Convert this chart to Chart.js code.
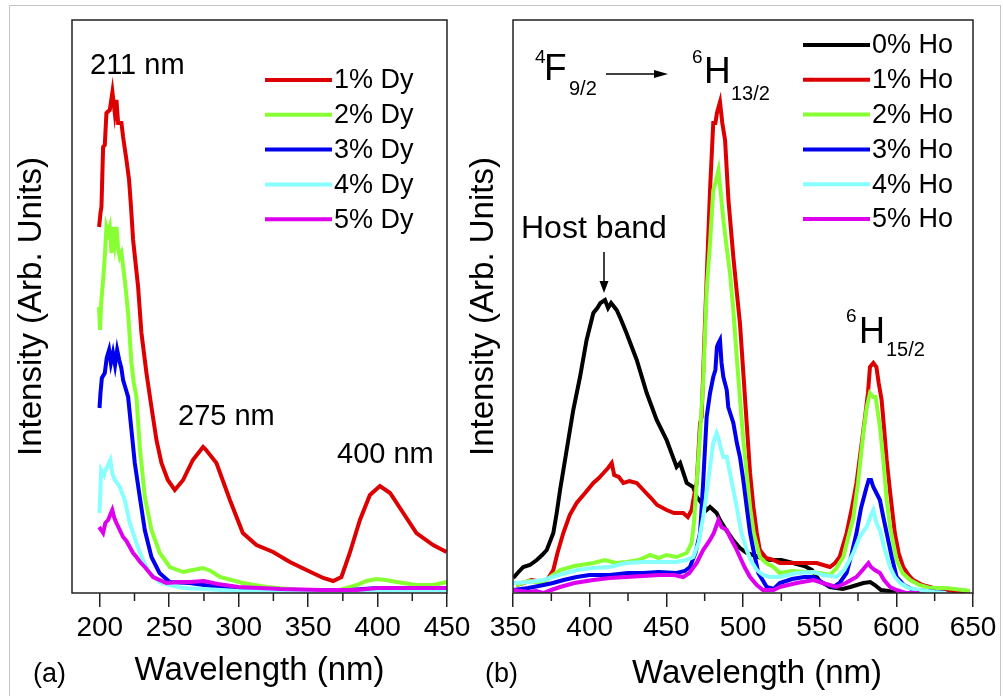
<!DOCTYPE html>
<html>
<head>
<meta charset="utf-8">
<title>Excitation spectra</title>
<script src="https://cdn.jsdelivr.net/npm/chart.js@4.4.1/dist/chart.umd.min.js"></script>
<style>
  html, body { margin: 0; padding: 0; background: #fff; }
  #wrap { position: relative; width: 1003px; height: 696px; overflow: hidden; }
  #frame { position: absolute; left: 9px; top: 5px; width: 990px; height: 720px; border: 1px solid #c4c4c4; }
  canvas { position: absolute; left: 0; top: 0; }
</style>
</head>
<body>
<div id="wrap">
  <div id="frame"></div>
  <canvas id="chartA" width="1003" height="696"></canvas>
  <canvas id="chartB" width="1003" height="696"></canvas>
</div>
<script>
const FONT = '"Liberation Sans", Arial, sans-serif';

// =======================
// (a) Dy series
// =======================
const dyLabels = ["1% Dy", "2% Dy", "3% Dy", "4% Dy", "5% Dy"];
const dyColors = ["#dd0000", "#88ff33", "#0000ee", "#88ffff", "#dd00ee"];

const dy1Nm = [199.5, 200.5, 201.2, 202.4, 203.6, 204.8, 207.2, 209.1, 210.8, 212, 213.2, 215.6, 216.8, 219.2, 221.1, 222.5, 224, 227.6, 230, 233.6, 237.2, 240.8, 244.4, 249, 254, 260, 267, 274.4, 276, 284, 293.7, 303, 312.8, 324.8, 336.9, 348.8, 360.9, 368, 374, 380, 387.3, 394.5, 401.7, 409, 418.5, 428, 440, 449.7];
const dy1Int = [366, 380, 386, 446, 448, 480, 483, 501, 480, 493, 470, 470, 456, 433, 413, 386, 353, 306, 260, 220, 186, 153, 130, 113, 103, 113, 133, 146, 144, 130, 93, 60, 48, 41, 31, 23, 15, 12, 16, 40, 73, 98, 107, 100, 80, 60, 48, 41];

const dy2Nm = [199.5, 200.2, 201, 202.4, 203.6, 204.8, 206, 207.2, 208.4, 209.5, 210.8, 212, 213.2, 214.4, 215.6, 218, 220.4, 222.8, 224.5, 226.4, 228.8, 232.4, 237.2, 243.2, 250.4, 260, 267, 274.4, 280, 286.5, 303, 320, 344, 370.5, 385, 392, 399, 406, 413.7, 428, 440, 449.7];
const dy2Int = [286, 263, 290, 313, 336, 366, 360, 366, 340, 366, 350, 366, 345, 336, 340, 313, 280, 230, 210, 196, 146, 96, 63, 40, 26, 21, 23, 25, 22, 16, 10, 6, 3, 2, 8, 12, 14, 13, 11, 8, 8, 11];

const dy3Nm = [199.8, 200.5, 201.5, 203.6, 205, 206.7, 208, 209.5, 211, 212.5, 214, 215.5, 216.8, 218.5, 220.4, 222.8, 225.2, 228.8, 232.4, 237.2, 243, 250.4, 264.8, 275, 290, 320, 370, 400, 450];
const dy3Int = [185, 200, 215, 220, 235, 243, 230, 240, 228, 243, 233, 225, 213, 205, 196, 163, 130, 96, 63, 36, 20, 11, 10, 8, 5, 3, 2, 5, 5];

const dy4Nm = [199.8, 201, 203, 204, 206, 207.6, 209, 210.8, 212.5, 214.4, 216, 218, 221.6, 226.4, 231, 236, 243, 250, 260, 275, 300, 350, 400, 450];
const dy4Int = [80, 123, 118, 123, 128, 133, 120, 113, 110, 106, 100, 93, 70, 50, 33, 20, 11, 8, 5, 4, 2, 1, 2, 3];

const dy5Nm = [199.5, 201, 202.4, 204, 206, 207.5, 209, 210.5, 212, 214.4, 216.8, 219.2, 221.6, 224, 226.4, 229, 232.4, 238.4, 248, 258, 265, 275, 285, 300, 330, 360, 385, 400, 420, 450];
const dy5Int = [66, 63, 60, 70, 73, 78, 83, 75, 70, 63, 56, 52, 46, 40, 36, 31, 26, 16, 10, 11, 11, 12, 9, 6, 4, 3, 3, 5, 5, 5];

const dyMinorTicks = [225, 275, 325, 375, 425];

// =======================
// (b) Ho series
// =======================
const hoLabels = ["0% Ho", "1% Ho", "2% Ho", "3% Ho", "4% Ho", "5% Ho"];
const hoColors = ["#000000", "#dd0000", "#88ff33", "#0000ee", "#88ffff", "#dd00ee"];

const ho0Nm = [350.2, 353, 356.7, 361, 365.5, 369, 372, 376.3, 378.5, 380.7, 385, 389.3, 393.7, 398, 402.4, 405, 407, 410, 412, 414, 417.6, 420, 424, 430.7, 437.2, 443.7, 450.2, 456.7, 459, 463.3, 467.5, 469.8, 473, 476.3, 478.5, 482.8, 485, 489.4, 493.5, 498, 502.4, 510, 517.6, 525, 532.6, 540, 545, 550, 556.7, 565, 570, 578.5, 583, 586, 590, 595, 600];
const ho0Int = [15, 20, 26, 28, 33, 38, 43, 60, 80, 103, 143, 183, 216, 253, 280, 285, 290, 293, 285, 290, 283, 275, 260, 233, 200, 173, 153, 126, 130, 110, 106, 96, 90, 83, 86, 80, 73, 62, 53, 45, 40, 36, 33, 33, 30, 27, 23, 12, 6, 4, 6, 10, 11, 8, 3, 2, 0];

const ho1Nm = [352, 356.7, 362, 369.8, 373, 376.3, 379, 382.8, 387, 391.5, 397, 402.4, 406, 409, 412, 414.4, 416, 419, 422, 426, 430.7, 435, 439.4, 444, 450.2, 455, 461, 464, 466.5, 467.6, 469.8, 472, 473, 475.2, 478.5, 480.6, 482, 483, 485, 486.5, 488.3, 490.5, 493.7, 496, 498, 500, 502.4, 504.6, 506.8, 509, 511, 515, 519.8, 524, 532.8, 541.5, 548, 556.7, 560, 563, 567.6, 571, 574, 577, 579.6, 581.5, 582.8, 585, 587, 588.5, 590.4, 592, 593.7, 596, 599, 601.5, 604.5, 608, 611, 617, 624, 632, 643.5, 648];
const ho1Int = [8, 10, 13, 11, 15, 23, 40, 60, 78, 90, 100, 110, 115, 120, 125, 130, 118, 116, 110, 112, 110, 103, 96, 88, 83, 80, 80, 76, 83, 93, 110, 170, 176, 270, 403, 470, 470, 480, 491, 470, 453, 393, 336, 300, 270, 225, 170, 120, 86, 60, 43, 35, 33, 30, 30, 30, 30, 26, 30, 36, 60, 85, 110, 145, 176, 200, 226, 230, 226, 210, 193, 165, 133, 100, 60, 40, 26, 18, 13, 8, 5, 3, 1, 0];

const ho2Nm = [352, 360, 369.8, 375, 380.7, 390, 402.4, 410, 417, 424, 432, 439.4, 445, 450, 456.7, 463.3, 466.5, 468, 469.8, 472, 474, 476.3, 478.5, 480.6, 482, 484, 485.5, 487, 489, 491.5, 493.7, 495.9, 498, 500.2, 502.4, 504.6, 507, 511, 515, 519.8, 524, 532, 541.5, 550, 556.7, 561, 565.4, 568.5, 572, 575, 578.5, 580.6, 582.8, 585, 586.5, 589.3, 591.5, 593.7, 596, 600.2, 604, 609, 615, 622, 632, 643.5, 648];
const ho2Int = [8, 12, 10, 17, 23, 27, 30, 33, 30, 31, 33, 38, 35, 38, 36, 40, 50, 70, 110, 160, 210, 303, 350, 403, 410, 423, 400, 376, 350, 320, 283, 236, 195, 153, 120, 86, 60, 36, 30, 26, 20, 22, 21, 20, 18, 25, 36, 55, 76, 110, 160, 185, 200, 196, 196, 166, 133, 93, 65, 33, 20, 13, 8, 5, 5, 3, 2];

const ho3Nm = [350, 360, 370, 376, 383, 391.5, 400, 413, 425, 435, 445, 456.7, 462, 465.4, 469, 472, 474, 476.3, 478.5, 480.6, 482, 483, 484, 485, 486, 487.2, 489.4, 490.4, 493.7, 496, 498, 500, 502.4, 504.6, 506.8, 510, 515.5, 520, 524, 532, 540, 546, 552, 559, 563, 567.6, 571, 574, 577, 580.6, 582, 583.5, 585, 587, 589.3, 591.5, 593.7, 597, 600.2, 605, 611, 620, 632.6];
const ho3Int = [3, 5, 8, 10, 13, 16, 18, 18, 20, 20, 21, 20, 22, 26, 40, 60, 110, 176, 200, 216, 223, 246, 250, 253, 230, 216, 203, 186, 170, 150, 136, 115, 86, 60, 43, 20, 6, 4, 10, 14, 16, 16, 10, 6, 10, 20, 40, 60, 85, 106, 113, 113, 106, 100, 93, 76, 60, 36, 16, 8, 3, 2, 0];

const ho4Nm = [350, 360, 369.8, 380, 391.5, 402, 413, 424, 435, 445, 456.7, 463, 467.6, 471, 474, 476.3, 478.5, 480.6, 482.8, 484, 485.5, 487.2, 489.4, 492, 495.9, 499, 502.4, 505, 509, 513, 517.6, 524, 535, 546, 552, 561, 566, 572, 576, 580.6, 583, 585, 587, 589.3, 592, 595.9, 599, 602.5, 608, 615.6, 625, 632.6];
const ho4Int = [10, 11, 13, 18, 23, 25, 26, 30, 31, 31, 31, 33, 36, 50, 76, 100, 126, 150, 160, 155, 145, 136, 136, 116, 86, 60, 43, 33, 23, 18, 16, 16, 20, 21, 18, 16, 23, 40, 56, 66, 76, 83, 70, 63, 46, 26, 16, 10, 5, 3, 1, 0];

const ho5Nm = [350, 355, 360, 365, 369.8, 375, 380.7, 390, 402.4, 413, 424, 435, 445.7, 455, 461, 465, 469.8, 474, 478.5, 481, 484, 486, 489.4, 491.5, 495, 498, 501, 504.6, 509, 513, 520, 524, 535, 546, 552, 561, 567, 574, 578, 581.8, 583.5, 586, 589.3, 592, 595.9, 600, 606, 615];
const ho5Int = [3, 2, 1, 2, 0, 3, 6, 10, 13, 15, 16, 17, 18, 18, 16, 20, 30, 43, 53, 60, 73, 66, 63, 56, 46, 36, 26, 16, 8, 3, 3, 6, 10, 13, 10, 6, 10, 16, 23, 30, 26, 23, 20, 13, 6, 3, 0, 0];

const hoMinorTicks = [375, 425, 475, 525, 575, 625];


// =======================
// helpers + plugins
// =======================
Chart.defaults.font.family = FONT;
Chart.defaults.color = "#000";

function pts(xs, ys) {
  return xs.map((x, i) => ({ x: x, y: ys[i] }));
}

function makeSets(labels, colors, xsList, ysList) {
  return labels.map((label, i) => ({
    label: label,
    data: pts(xsList[i], ysList[i]),
    borderColor: colors[i],
    backgroundColor: colors[i],
    order: labels.length - 1 - i   // later series sit on top
  }));
}

// box around the plot + short minor ticks
const framePlugin = {
  id: "frame",
  afterDatasetsDraw(chart, args, opts) {
    const { ctx, chartArea: a } = chart;
    const xs = chart.scales.x;
    ctx.save();
    ctx.strokeStyle = "#222";
    ctx.lineWidth = 1.5;
    ctx.strokeRect(a.left, a.top, a.right - a.left, a.bottom - a.top);
    ctx.beginPath();
    (opts.minor || []).forEach(v => {
      const px = xs.getPixelForValue(v);
      ctx.moveTo(px, a.bottom);
      ctx.lineTo(px, a.bottom + 8);
    });
    ctx.stroke();
    ctx.restore();
  }
};

// legend drawn inside the plot
const legendPlugin = {
  id: "inLegend",
  afterDraw(chart, args, opts) {
    const ctx = chart.ctx;
    ctx.save();
    ctx.font = opts.size + "px " + FONT;
    ctx.textBaseline = "middle";
    ctx.textAlign = "left";
    chart.data.datasets.forEach((ds, i) => {
      const y = opts.y + i * opts.dy;
      ctx.strokeStyle = ds.borderColor;
      ctx.lineWidth = 4;
      ctx.beginPath();
      ctx.moveTo(opts.x, y);
      ctx.lineTo(opts.x + 67, y);
      ctx.stroke();
      ctx.fillStyle = "#000";
      ctx.fillText(ds.label, opts.x + 69, y + 1);
    });
    ctx.restore();
  }
};

// free text and arrows
const notesPlugin = {
  id: "notes",
  afterDraw(chart, args, opts) {
    const ctx = chart.ctx;
    ctx.save();
    ctx.fillStyle = "#000";
    ctx.strokeStyle = "#000";
    ctx.textBaseline = "alphabetic";
    (opts.texts || []).forEach(t => {
      ctx.font = t.size + "px " + FONT;
      ctx.textAlign = t.align || "left";
      ctx.fillText(t.text, t.x, t.y);
    });
    (opts.arrows || []).forEach(ar => {
      const ang = Math.atan2(ar.y2 - ar.y1, ar.x2 - ar.x1);
      const bx = ar.x2 - ar.head * Math.cos(ang);
      const by = ar.y2 - ar.head * Math.sin(ang);
      ctx.lineWidth = ar.width;
      ctx.beginPath();
      ctx.moveTo(ar.x1, ar.y1);
      ctx.lineTo(bx, by);
      ctx.stroke();
      ctx.beginPath();
      ctx.moveTo(ar.x2, ar.y2);
      ctx.lineTo(bx - ar.half * Math.sin(ang), by + ar.half * Math.cos(ang));
      ctx.lineTo(bx + ar.half * Math.sin(ang), by - ar.half * Math.cos(ang));
      ctx.closePath();
      ctx.fill();
    });
    ctx.restore();
  }
};

function buildChart(id, cfg) {
  return new Chart(document.getElementById(id), {
    type: "line",
    data: { datasets: cfg.datasets },
    options: {
      responsive: false,
      animation: false,
      devicePixelRatio: 1,
      layout: { padding: cfg.padding },
      elements: {
        point: { radius: 0 },
        line: { borderWidth: 4, tension: 0 }
      },
      plugins: {
        legend: { display: false },
        tooltip: { enabled: false },
        inLegend: cfg.legend,
        frame: { minor: cfg.minor },
        notes: cfg.notes
      },
      scales: {
        x: {
          type: "linear",
          min: cfg.xMin,
          max: cfg.xMax,
          afterFit: s => { s.height = 103; s.paddingLeft = 0; s.paddingRight = 0; },
          border: { display: false },
          grid: { drawOnChartArea: false, drawTicks: true, tickLength: 14, color: "#222", lineWidth: 1.5 },
          ticks: { stepSize: 50, includeBounds: false, padding: 4, color: "#000", maxRotation: 0, font: { size: 28 } },
          title: {
            display: cfg.xTitle,
            text: "Wavelength (nm)",
            color: "#000",
            font: { size: 33 },
            padding: { top: 0, bottom: 5 }
          }
        },
        y: {
          min: 0,
          max: 573,
          afterFit: s => { s.width = cfg.yWidth; },
          border: { display: false },
          grid: { display: false },
          ticks: { display: false },
          title: {
            display: true,
            text: "Intensity (Arb. Units)",
            color: "#000",
            font: { size: 33 },
            padding: { top: cfg.yTitlePad, bottom: 0 }
          }
        }
      }
    },
    plugins: [framePlugin, legendPlugin, notesPlugin]
  });
}


// =======================
// 🟢 PANEL (a)
// =======================
buildChart("chartA", {
  datasets: makeSets(dyLabels, dyColors,
    [dy1Nm, dy2Nm, dy3Nm, dy4Nm, dy5Nm],
    [dy1Int, dy2Int, dy3Int, dy4Int, dy5Int]),
  padding: { left: 0, top: 20, right: 556, bottom: 0 },
  xMin: 180,
  xMax: 450,
  xTitle: true,
  yWidth: 72,
  yTitlePad: 12,
  minor: dyMinorTicks,
  legend: { x: 265, y: 80, dy: 34.8, size: 27 },
  notes: {
    texts: [
      { text: "211 nm", x: 90, y: 74, size: 29 },
      { text: "275 nm", x: 178, y: 425, size: 29 },
      { text: "400 nm", x: 337, y: 463, size: 29 },
      { text: "(a)", x: 33, y: 682, size: 27 }
    ]
  }
});


// =======================
// 🟣 PANEL (b)
// =======================
buildChart("chartB", {
  datasets: makeSets(hoLabels, hoColors,
    [ho0Nm, ho1Nm, ho2Nm, ho3Nm, ho4Nm, ho5Nm],
    [ho0Int, ho1Int, ho2Int, ho3Int, ho4Int, ho5Int]),
  padding: { left: 460, top: 20, right: 30, bottom: 0 },
  xMin: 350,
  xMax: 650,
  xTitle: false,
  yWidth: 53,
  yTitlePad: 4,
  minor: hoMinorTicks,
  legend: { x: 803, y: 45, dy: 34.8, size: 27 },
  notes: {
    texts: [
      { text: "4", x: 535, y: 63, size: 19 },
      { text: "F", x: 544, y: 80, size: 37 },
      { text: "9/2", x: 569, y: 95, size: 20 },
      { text: "6", x: 692, y: 63, size: 19 },
      { text: "H", x: 704, y: 83, size: 37 },
      { text: "13/2", x: 731, y: 100, size: 20 },
      { text: "Host band", x: 521, y: 238, size: 32 },
      { text: "6", x: 846, y: 322, size: 19 },
      { text: "H", x: 859, y: 343, size: 36 },
      { text: "15/2", x: 886, y: 356, size: 20 },
      { text: "(b)", x: 485, y: 682, size: 27 },
      { text: "Wavelength (nm)", x: 757, y: 683, size: 33, align: "center" }
    ],
    arrows: [
      { x1: 606, y1: 74, x2: 668, y2: 74, head: 14, half: 4, width: 1.3 },
      { x1: 604, y1: 252, x2: 604, y2: 293, head: 12, half: 4.5, width: 1.5 }
    ]
  }
});
</script>
</body>
</html>
